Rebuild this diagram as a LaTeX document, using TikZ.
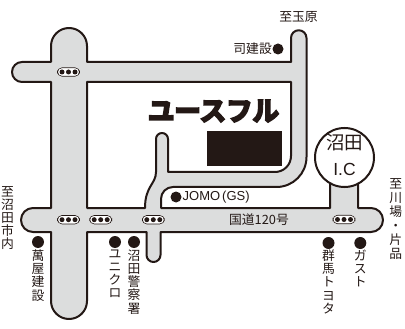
\documentclass[tikz,border=0pt]{standalone}
\usepackage{fontspec}
\newfontfamily\jp{Noto Sans CJK JP}
\newfontfamily\jplogo[FakeBold=7]{Noto Sans CJK JP Bold}
\setmainfont{Liberation Sans}
\definecolor{ink}{HTML}{231815}
\definecolor{road}{HTML}{DCDDDD}
\tikzset{
  x=1pt,y=-1pt,
  roadline/.style={draw=ink,line width=2pt,line join=round},
  signalpill/.style={draw=ink,fill=white,line width=0.6pt,rounded corners=4.5pt,minimum width=22pt,minimum height=8.5pt,inner sep=0pt},
  sigdot/.style={circle,fill=ink,inner sep=0pt,minimum size=5pt},
  spot/.style={circle,fill=ink,inner sep=0pt,minimum size=12pt},
  smallspot/.style={circle,fill=ink,inner sep=0pt,minimum size=11pt},
  lab/.style={text=ink,inner sep=0pt,font=\jp\fontsize{12.8}{13.2}\selectfont},
  vlab/.style={lab,align=center,anchor=north},
}
\newcommand{\signalat}[2]{%
  \node[signalpill] at (#1,#2) {};
  \node[sigdot] at (#1-6.5,#2) {};
  \node[sigdot] at (#1,#2) {};
  \node[sigdot] at (#1+6.5,#2) {};
}
\begin{document}
\begin{tikzpicture}
\useasboundingbox (0,0) rectangle (405,329);
% road network outline
\path[roadline,fill=road]
  (51,46) arc[start angle=180,end angle=360,radius=18]
  -- (87,62) -- (291,62) -- (291,38)
  arc[start angle=180,end angle=360,radius=7.75]
  -- (306.5,157) arc[start angle=0,end angle=90,radius=30]
  -- (173,187) arc[start angle=270,end angle=180,radius=12]
  -- (161,208) -- (330,208) -- (330,180) -- (358,180) -- (358,208)
  -- (371,208) arc[start angle=270,end angle=450,radius=12]
  -- (160.5,232) -- (160.5,255)
  arc[start angle=0,end angle=180,radius=7]
  -- (146.5,232) -- (87,232) -- (87,301)
  arc[start angle=0,end angle=180,radius=18]
  -- (51,232) -- (33,232)
  arc[start angle=90,end angle=270,radius=12]
  -- (51,208) -- (51,82) -- (22,82)
  arc[start angle=90,end angle=270,radius=10]
  -- (51,62) -- cycle;
\path[roadline,fill=white]
  (87,82) -- (291,82) -- (291,156)
  arc[start angle=0,end angle=90,radius=16]
  -- (168,172) -- (168,139)
  arc[start angle=360,end angle=180,radius=6]
  -- (156,172) .. controls (156,184) and (145,186) .. (145,208)
  -- (87,208) -- cycle;
% interchange
\node[circle,draw=ink,fill=white,line width=2pt,minimum size=59pt,inner sep=0pt] (ic) at (344.5,157.5) {};
\node[lab,font=\jp\fontsize{18.5}{18.5}\selectfont] (ictop) at (344.5,143) {沼田};
\node[text=ink,inner sep=0pt,font=\fontsize{17.5}{17.5}\selectfont] (icbot) at (344.5,169) {I.C};
% signals
\signalat{68.5}{72}
\signalat{68.5}{219.7}
\signalat{100.7}{219.7}
\signalat{153.3}{219.7}
\signalat{344}{219.5}
% logo
\node[text=ink,inner sep=0pt,xscale=0.98,font=\jplogo\fontsize{27}{27}\selectfont] (logo) at (213.5,111) {ユースフル};
\node[fill=ink,minimum width=75pt,minimum height=35pt,inner sep=0pt] (block) at (244.5,148.5) {};
% labels
\node[lab] (tama) at (298.5,17) {至玉原};
\node[lab,anchor=east] (tsukasa) at (272,49) {司建設};
\node[smallspot] (tsukasadot) at (278,49) {};
\node[smallspot] (jomodot) at (176,197) {};
\node[text=ink,inner sep=0pt,anchor=west,font=\fontsize{13}{13}\selectfont] (jomo) at (182.5,197) {JOMO\kern2pt(GS)\kern2pt};
\node[lab] (route) at (259,220) {国道120号};
\node[vlab] (numata) at (7.5,186) {至\\沼\\田\\市\\内};
\node[vlab,font=\jp\fontsize{12.8}{13.9}\selectfont] (kawaba) at (395.7,178.5) {至\\川\\場\\・\\片\\品};
\node[spot] (d1) at (38,242) {};
\node[vlab] (yorozuya) at (38,249.5) {萬\\屋\\建\\設};
\node[spot] (d2) at (115,242) {};
\node[vlab] (uniqlo) at (115,249.5) {ユ\\ニ\\ク\\ロ};
\node[spot] (d3) at (134,242) {};
\node[vlab] (police) at (134,249.5) {沼\\田\\警\\察\\署};
\node[spot] (d4) at (328.5,243) {};
\node[vlab] (toyota) at (328.5,249.5) {群\\馬\\ト\\ヨ\\タ};
\node[spot] (d5) at (360.3,243) {};
\node[vlab] (gusto) at (360.3,249.5) {ガ\\ス\\ト};
\end{tikzpicture}
\end{document}
